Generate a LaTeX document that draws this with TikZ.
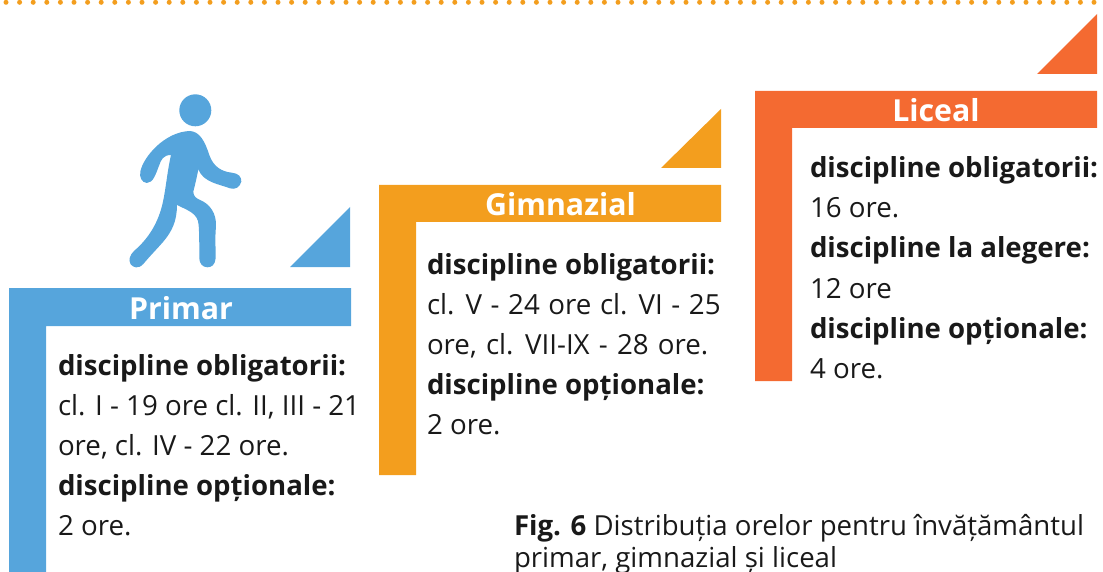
\documentclass[tikz,border=0pt]{standalone}
\usepackage{fontspec}
\setmainfont{Open Sans}
\definecolor{cblue}{HTML}{56A5DC}
\definecolor{corange}{HTML}{F39E1E}
\definecolor{cred}{HTML}{F46A31}
\tikzset{
  txt/.style={anchor=base west,inner sep=0pt,outer sep=0pt,text=black!90,font=\fontsize{27.7}{32}\selectfont},
  hd/.style={txt,font=\fontsize{27.6}{32}\selectfont\bfseries},
  bartitle/.style={anchor=base,inner sep=0pt,text=white,font=\fontsize{30.3}{34}\selectfont\bfseries},
  captxt/.style={txt,font=\fontsize{27.6}{32}\selectfont}
}
\begin{document}
\begin{tikzpicture}[x=1pt,y=-1pt]
\useasboundingbox (0,0) rectangle (1103,572);
\foreach \i in {0,...,80} \fill[corange] ({6+13.6*\i},2.3) circle (2.5);
% walker
\fill[cblue] (195.3,110.3) circle (16);
\begin{scope}[x=0.3333pt,y=-0.3333pt]
\fill[cblue] (570,393) .. controls (600,395) and (615,425) .. (628,465)
 .. controls (640,500) and (665,515) .. (695,518)
 .. controls (715,520) and (725,530) .. (724,545)
 .. controls (720,562) and (705,570) .. (690,565)
 .. controls (660,553) and (610,548) .. (595,508)
 .. controls (590,535) and (585,555) .. (580,575)
 .. controls (580,590) and (590,595) .. (600,600)
 .. controls (630,612) and (650,640) .. (648,680)
 .. controls (645,710) and (647,740) .. (647,775)
 .. controls (645,795) and (635,802) .. (622,802)
 .. controls (608,802) and (598,790) .. (598,775)
 .. controls (598,740) and (598,700) .. (596,675)
 .. controls (594,640) and (565,632) .. (531,615)
 .. controls (531,665) and (515,695) .. (490,725)
 .. controls (470,748) and (450,768) .. (430,792)
 .. controls (415,808) and (400,803) .. (392,793)
 .. controls (384,780) and (390,765) .. (402,753)
 .. controls (450,712) and (480,660) .. (492,590)
 .. controls (500,545) and (503,510) .. (513,465)
 .. controls (490,465) and (483,480) .. (478,495)
 .. controls (468,520) and (460,550) .. (440,549)
 .. controls (425,547) and (418,532) .. (421,515)
 .. controls (430,470) and (495,395) .. (570,393) -- cycle;
\end{scope}
% steps
\fill[cblue] (9,288) -| (351,326) -| (46,572) -| cycle;
\fill[corange] (379,185) -| (721,222) -| (416,475) -| cycle;
\fill[cred] (755,91) -| (1097,128) -| (792,381) -| cycle;
\fill[cblue] (350,207) -- (350,267) -- (290,267) -- cycle;
\fill[corange] (721,109) -- (721,168) -- (661,168) -- cycle;
\fill[cred] (1097,14) -- (1097,74) -- (1037,74) -- cycle;
% titles
\node[bartitle] (t1) at (181,319) {Primar};
\node[bartitle] (t2) at (560.5,215.5) {Gimnazial};
\node[bartitle] (t3) at (936,121.5) {Liceal};
% Primar
\node[hd] (a1) at (58,375) {discipline obligatorii:};
\node[txt] (a2) at (58,415) {cl. I - 19 ore cl. II, III - 21};
\node[txt] (a3) at (58,455) {ore, cl. IV - 22 ore.};
\node[hd] (a4) at (58,495) {discipline opționale:};
\node[txt] (a5) at (58,535) {2 ore.};
% Gimnazial
\node[hd] (b1) at (427,274) {discipline obligatorii:};
\node[txt] (b2) at (427,314) {\spaceskip=8.6pt cl. V - 24 ore cl. VI - 25};
\node[txt] (b3) at (427,354) {\spaceskip=9.2pt ore, cl. VII-IX - 28 ore.};
\node[hd] (b4) at (427,394) {discipline opționale:};
\node[txt] (b5) at (427,434) {2 ore.};
% Liceal
\node[hd] (c1) at (810,178) {discipline obligatorii:};
\node[txt] (c2) at (810,218) {16 ore.};
\node[hd] (c3) at (810,258) {discipline la alegere:};
\node[txt] (c4) at (810,298) {12 ore};
\node[hd] (c5) at (810,338) {discipline opționale:};
\node[txt] (c6) at (810,378) {4 ore.};
% caption
\node[captxt] (f1) at (514,535) {{\bfseries Fig. 6} Distribuția orelor pentru învățământul};
\node[captxt] (f2) at (514,567) {primar, gimnazial și liceal};
\end{tikzpicture}
\end{document}
